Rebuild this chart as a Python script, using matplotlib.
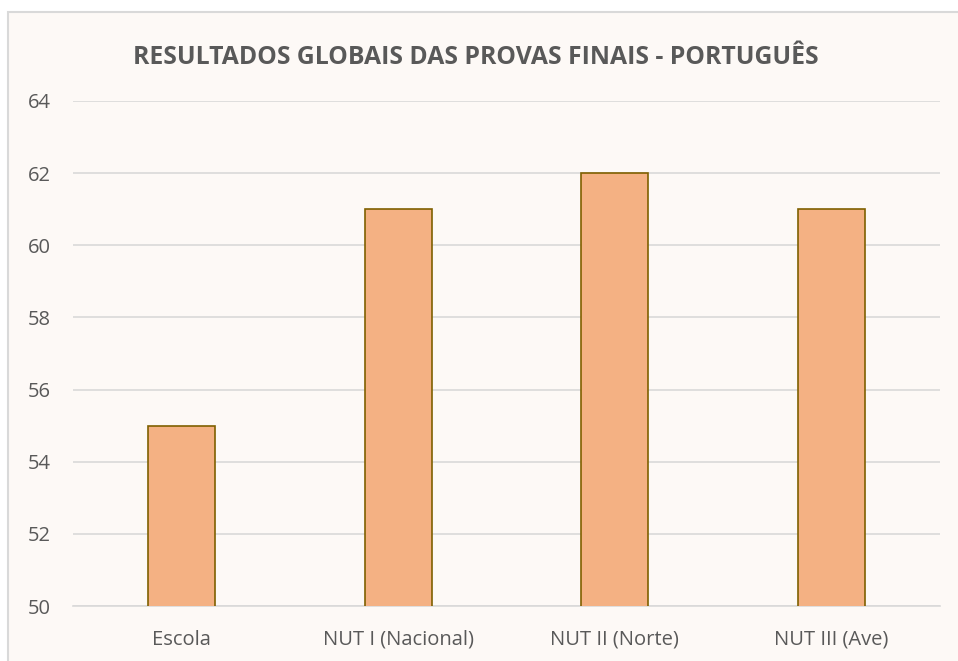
import matplotlib.pyplot as plt
from matplotlib.patches import Rectangle

categories = ["Escola", "NUT I (Nacional)", "NUT II (Norte)", "NUT III (Ave)"]
values = [55, 61, 62, 61]
yticks = [50, 52, 54, 56, 58, 60, 62, 64]

plt.rcParams['font.family'] = ['Open Sans', 'DejaVu Sans']

fig = plt.figure(figsize=(9.58, 6.61), dpi=100)
fig.patch.set_facecolor("white")

# chart area background with a light border (cut off on the right/bottom)
bg = Rectangle((8 / 958, -0.01), 1.0, 1 - 12 / 661 + 0.01, transform=fig.transFigure,
               facecolor="#FDF9F6", edgecolor="#D9D9D9", linewidth=1.5, zorder=-1)
fig.patches.append(bg)

ax = fig.add_axes([73 / 958, 1 - 606 / 661, (940 - 73) / 958, (606 - 101) / 661])
ax.set_facecolor("none")

x = range(len(categories))
ax.bar(x, values, width=0.31, color="#F4B183", edgecolor="#7F6000", linewidth=1.2, zorder=3)

ax.set_ylim(50, 64)
ax.set_xlim(-0.5, len(categories) - 0.5)
ax.set_yticks(yticks)
ax.set_xticks(list(x))
ax.set_xticklabels(categories)
ax.grid(axis="y", color="#D9D9D9", linewidth=1.2, zorder=0)
for s in ["top", "right", "left"]:
    ax.spines[s].set_visible(False)
ax.spines["bottom"].set_color("#D9D9D9")
ax.spines["bottom"].set_linewidth(1.2)
ax.tick_params(axis="both", length=0, colors="#595959", labelsize=14.5)
ax.tick_params(axis="y", pad=16)
ax.tick_params(axis="x", pad=17)

fig.text(0.497, 1 - 58 / 661, "RESULTADOS GLOBAIS DAS PROVAS FINAIS - PORTUGUÊS",
         ha="center", va="center", fontsize=17.8, fontweight="bold", color="#595959")

fig.savefig("out.png", dpi=100)
